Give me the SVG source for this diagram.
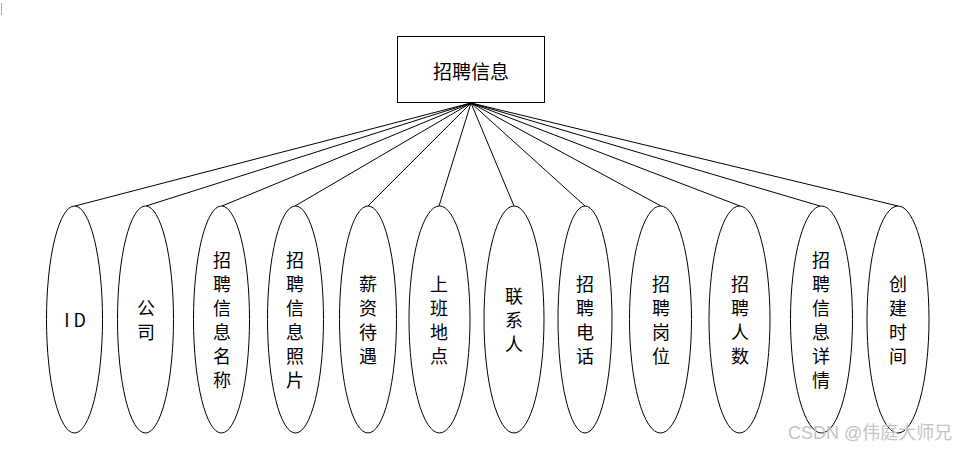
<svg xmlns="http://www.w3.org/2000/svg" width="957" height="450" viewBox="0 0 957 450">
<style>
.box{fill:#fff;stroke:#000;stroke-width:1}
.ell{fill:#fff;stroke:#000;stroke-width:1}
.con line{stroke:#000;stroke-width:1}
.t{font-family:"Noto Sans CJK SC","Liberation Sans",sans-serif;font-size:18px;fill:#000;text-anchor:middle;dominant-baseline:central}
.wm{font-family:"Liberation Sans","Noto Sans CJK SC",sans-serif;font-size:18px;fill:#c4c4c4}
</style>
<rect width="957" height="450" fill="#fff"/>
<line x1="1.5" y1="3" x2="1.5" y2="15" stroke="#aaa" stroke-width="1"/>
<g class="con" id="connectors">
<line x1="471" y1="103" x2="75" y2="206"/>
<line x1="471" y1="103" x2="146" y2="206"/>
<line x1="471" y1="103" x2="222" y2="206"/>
<line x1="471" y1="103" x2="295" y2="206"/>
<line x1="471" y1="103" x2="368" y2="206"/>
<line x1="471" y1="103" x2="439" y2="206"/>
<line x1="471" y1="103" x2="514" y2="206"/>
<line x1="471" y1="103" x2="585" y2="206"/>
<line x1="471" y1="103" x2="661" y2="206"/>
<line x1="471" y1="103" x2="740" y2="206"/>
<line x1="471" y1="103" x2="820" y2="206"/>
<line x1="471" y1="103" x2="898" y2="206"/>
</g>
<g id="root">
<rect class="box" x="397.5" y="36.5" width="147" height="66"/>
<text class="t" x="471" y="70" style="font-size:19px">招聘信息</text>
</g>
<g id="n1"><ellipse class="ell" cx="74.5" cy="319.5" rx="28" ry="113.5"/>
<text class="t" x="75" y="319">I D</text></g>
<g id="n2"><ellipse class="ell" cx="145.5" cy="319.5" rx="28" ry="113.5"/>
<text class="t" x="146"><tspan x="146" y="307">公</tspan><tspan x="146" y="331">司</tspan></text></g>
<g id="n3"><ellipse class="ell" cx="221.5" cy="319.5" rx="28" ry="113.5"/>
<text class="t"><tspan x="222" y="259">招</tspan><tspan x="222" y="283">聘</tspan><tspan x="222" y="307">信</tspan><tspan x="222" y="331">息</tspan><tspan x="222" y="355">名</tspan><tspan x="222" y="379">称</tspan></text></g>
<g id="n4"><ellipse class="ell" cx="295.5" cy="319.5" rx="28" ry="113.5"/>
<text class="t"><tspan x="295" y="259">招</tspan><tspan x="295" y="283">聘</tspan><tspan x="295" y="307">信</tspan><tspan x="295" y="331">息</tspan><tspan x="295" y="355">照</tspan><tspan x="295" y="379">片</tspan></text></g>
<g id="n5"><ellipse class="ell" cx="368" cy="319.5" rx="28.5" ry="113.5"/>
<text class="t"><tspan x="368" y="283">薪</tspan><tspan x="368" y="307">资</tspan><tspan x="368" y="331">待</tspan><tspan x="368" y="355">遇</tspan></text></g>
<g id="n6"><ellipse class="ell" cx="439.5" cy="319.5" rx="30.5" ry="113.5"/>
<text class="t"><tspan x="439" y="283">上</tspan><tspan x="439" y="307">班</tspan><tspan x="439" y="331">地</tspan><tspan x="439" y="355">点</tspan></text></g>
<g id="n7"><ellipse class="ell" cx="514" cy="319.5" rx="30" ry="113.5"/>
<text class="t"><tspan x="514" y="295">联</tspan><tspan x="514" y="319">系</tspan><tspan x="514" y="343">人</tspan></text></g>
<g id="n8"><ellipse class="ell" cx="585" cy="319.5" rx="27" ry="113.5"/>
<text class="t"><tspan x="585" y="283">招</tspan><tspan x="585" y="307">聘</tspan><tspan x="585" y="331">电</tspan><tspan x="585" y="355">话</tspan></text></g>
<g id="n9"><ellipse class="ell" cx="660.5" cy="319.5" rx="31" ry="113.5"/>
<text class="t"><tspan x="661" y="283">招</tspan><tspan x="661" y="307">聘</tspan><tspan x="661" y="331">岗</tspan><tspan x="661" y="355">位</tspan></text></g>
<g id="n10"><ellipse class="ell" cx="739.5" cy="319.5" rx="30.5" ry="113.5"/>
<text class="t"><tspan x="740" y="283">招</tspan><tspan x="740" y="307">聘</tspan><tspan x="740" y="331">人</tspan><tspan x="740" y="355">数</tspan></text></g>
<g id="n11"><ellipse class="ell" cx="821.5" cy="319.5" rx="31" ry="113.5"/>
<text class="t"><tspan x="821" y="259">招</tspan><tspan x="821" y="283">聘</tspan><tspan x="821" y="307">信</tspan><tspan x="821" y="331">息</tspan><tspan x="821" y="355">详</tspan><tspan x="821" y="379">情</tspan></text></g>
<g id="n12"><ellipse class="ell" cx="898" cy="319.5" rx="31" ry="113.5"/>
<text class="t"><tspan x="898" y="283">创</tspan><tspan x="898" y="307">建</tspan><tspan x="898" y="331">时</tspan><tspan x="898" y="355">间</tspan></text></g>
<text class="wm" x="788" y="439">CSDN @伟庭大师兄</text>
</svg>
